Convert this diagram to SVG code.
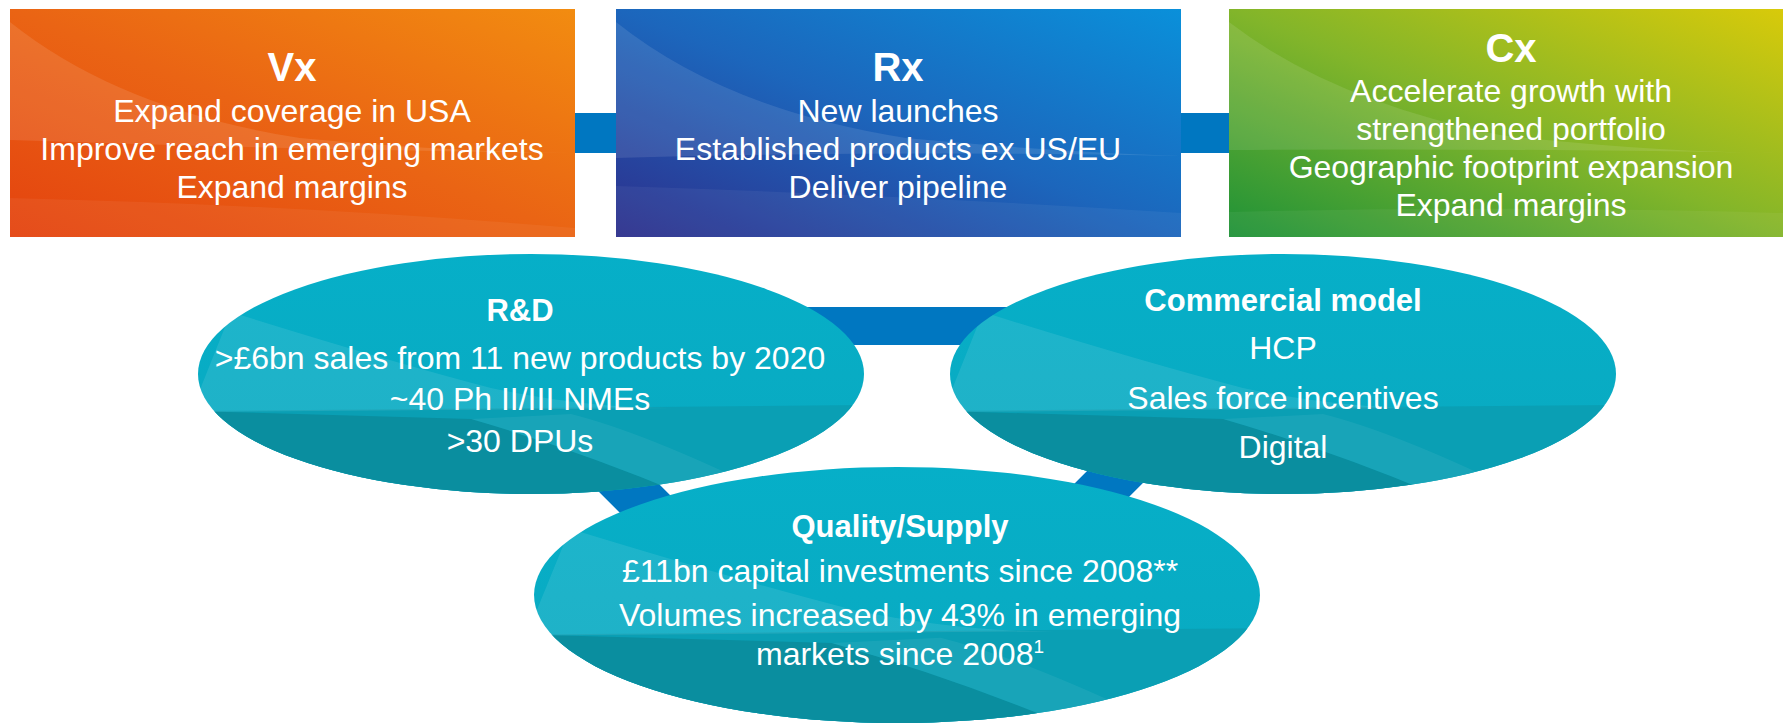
<svg xmlns="http://www.w3.org/2000/svg" width="1783" height="724" viewBox="0 0 1783 724">
<defs>
<style>
.t{font-family:"Liberation Sans",Arial,sans-serif;fill:#fff;text-anchor:middle}
.h1{font-size:40px;font-weight:bold}
.h2{font-size:31px;font-weight:bold}
.b{font-size:32px}
.conn{stroke:#0077C1;fill:none;stroke-linecap:butt}
.sw{fill:#fff;opacity:0.1}
.sw2{fill:#fff;opacity:0.05}
</style>
<linearGradient id="gV" x1="0" y1="1" x2="1" y2="0">
<stop offset="0" stop-color="#E4430F"/><stop offset="0.5" stop-color="#EA6414"/><stop offset="1" stop-color="#F28C10"/>
</linearGradient>
<linearGradient id="gR" x1="0" y1="1" x2="1" y2="0">
<stop offset="0" stop-color="#2D2F8C"/><stop offset="0.5" stop-color="#1C66BC"/><stop offset="1" stop-color="#0A90DA"/>
</linearGradient>
<linearGradient id="gC" x1="0" y1="1" x2="1" y2="0">
<stop offset="0" stop-color="#1E9238"/><stop offset="0.5" stop-color="#82B52A"/><stop offset="1" stop-color="#D8CA0A"/>
</linearGradient>
<linearGradient id="gE" x1="0" y1="0" x2="0" y2="1">
<stop offset="0" stop-color="#06AFC8"/><stop offset="1" stop-color="#0AA9C0"/>
</linearGradient>
<clipPath id="cV"><rect x="10" y="9" width="565" height="228"/></clipPath>
<clipPath id="cR"><rect x="616" y="9" width="565" height="228"/></clipPath>
<clipPath id="cC"><rect x="1229" y="9" width="554" height="228"/></clipPath>
<clipPath id="cE"><ellipse cx="0" cy="0" rx="333" ry="120"/></clipPath>
<g id="ell">
<ellipse cx="0" cy="0" rx="333" ry="120" fill="url(#gE)"/>
<g clip-path="url(#cE)">
<path d="M-340,37 L340,31 L340,130 L-340,130 Z" fill="#0A9FB4"/>
<path d="M-340,37 L-60,45 Q60,80 175,130 L-340,130 Z" fill="#0A8E9F"/>
<path d="M-300,-62 Q-150,-15 -40,14 Q60,35 150,34 L-340,38 Z" fill="#fff" opacity="0.09"/>
<path d="M-60,45 Q60,80 175,130 L260,130 Q120,60 40,40 Z" fill="#fff" opacity="0.06"/>
</g>
</g>
</defs>

<g id="connectors">
<rect x="560" y="113" width="680" height="40" fill="#0077C1"/>
<line class="conn" x1="467" y1="326" x2="1266" y2="326" stroke-width="38"/>
<line class="conn" x1="467" y1="326" x2="820" y2="679" stroke-width="48"/>
<line class="conn" x1="1266" y1="326" x2="912" y2="680" stroke-width="48"/>
</g>

<g id="node-vx">
<rect x="10" y="9" width="565" height="228" fill="url(#gV)"/>
<g clip-path="url(#cV)">
<path class="sw" d="M10,22 Q120,110 300,138 Q450,152 575,153 Q300,150 10,140 Z"/>
<path class="sw2" d="M10,198 Q300,205 575,228 L575,237 L10,237 Z"/>
</g>
<text class="t h1" x="292" y="81">Vx</text>
<text class="t b" x="292" y="122">Expand coverage in USA</text>
<text class="t b" x="292" y="160">Improve reach in emerging markets</text>
<text class="t b" x="292" y="198">Expand margins</text>
</g>

<g id="node-rx">
<rect x="616" y="9" width="565" height="228" fill="url(#gR)"/>
<g clip-path="url(#cR)">
<path class="sw" d="M616,22 Q726,110 906,138 Q1056,152 1181,156 Q906,150 616,158 Z"/>
<path class="sw2" d="M616,186 Q900,195 1181,213 L1181,237 L616,237 Z"/>
</g>
<text class="t h1" x="898" y="81">Rx</text>
<text class="t b" x="898" y="122">New launches</text>
<text class="t b" x="898" y="160">Established products ex US/EU</text>
<text class="t b" x="898" y="198">Deliver pipeline</text>
</g>

<g id="node-cx">
<rect x="1229" y="9" width="554" height="228" fill="url(#gC)"/>
<g clip-path="url(#cC)">
<path class="sw" d="M1229,22 Q1330,100 1500,135 Q1650,152 1783,153 Q1500,148 1229,150 Z"/>
<path class="sw2" d="M1229,212 Q1500,205 1783,213 L1783,237 L1229,237 Z"/>
</g>
<text class="t h1" x="1511" y="62">Cx</text>
<text class="t b" x="1511" y="102">Accelerate growth with</text>
<text class="t b" x="1511" y="140">strengthened portfolio</text>
<text class="t b" x="1511" y="178">Geographic footprint expansion</text>
<text class="t b" x="1511" y="216">Expand margins</text>
</g>

<g id="node-rd">
<use href="#ell" transform="translate(531,374)"/>
<text class="t h2" x="520" y="321">R&amp;D</text>
<text class="t b" x="520" y="369">&gt;£6bn sales from 11 new products by 2020</text>
<text class="t b" x="520" y="410">~40 Ph II/III NMEs</text>
<text class="t b" x="520" y="452">&gt;30 DPUs</text>
</g>

<g id="node-commercial">
<use href="#ell" transform="translate(1283,374)"/>
<text class="t h2" x="1283" y="311">Commercial model</text>
<text class="t b" x="1283" y="359">HCP</text>
<text class="t b" x="1283" y="409">Sales force incentives</text>
<text class="t b" x="1283" y="458">Digital</text>
</g>

<g id="node-quality">
<use href="#ell" transform="translate(897,595) scale(1.09,1.067)"/>
<text class="t h2" x="900" y="537">Quality/Supply</text>
<text class="t b" x="900" y="582">£11bn capital investments since 2008**</text>
<text class="t b" x="900" y="626">Volumes increased by 43% in emerging</text>
<text class="t b" x="900" y="665">markets since 2008<tspan font-size="19" dy="-12">1</tspan></text>
</g>
</svg>
